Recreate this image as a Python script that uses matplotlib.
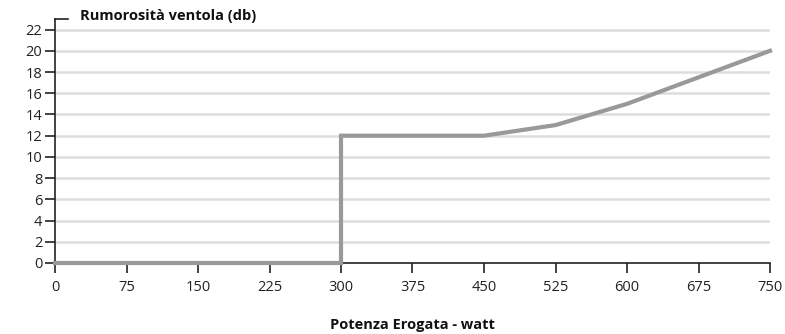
import matplotlib.pyplot as plt
import numpy as np

plt.rcParams['font.family'] = ['Open Sans', 'DejaVu Sans']

potenza = [0, 300, 300, 450, 525, 600, 675, 750]
rumore = [0, 0, 12, 12, 13, 15, 17.5, 20]
x_ticks = np.arange(0, 751, 75)
y_ticks = np.arange(0, 23, 2)


def main():
    fig = plt.figure(figsize=(7.85, 3.34), dpi=100)
    ax = fig.add_axes([55 / 785, 71 / 334, 715 / 785, 244 / 334])

    for y in y_ticks[1:]:
        ax.axhline(y, color='#dddddd', lw=1.8, zorder=1)

    ax.plot(potenza, rumore, color='#999999', lw=3, zorder=3,
            solid_joinstyle='miter', clip_on=False)

    ax.set_xlim(0, 750)
    ax.set_ylim(0, 23)
    ax.set_xticks(x_ticks)
    ax.set_yticks(y_ticks)
    for s in ['top', 'right']:
        ax.spines[s].set_visible(False)
    for s in ['left', 'bottom']:
        ax.spines[s].set_linewidth(1.2)
        ax.spines[s].set_color('#222222')
    ax.tick_params(length=7, width=1.2, color='#222222', labelsize=10.5,
                   labelcolor='#222222', pad=2)
    ax.tick_params(axis='x', pad=5)

    # outer tick at top of y domain
    ax.plot([0, 13 / 715 * 750], [23, 23], color='#222222', lw=1.2,
            clip_on=False, zorder=4)

    fig.text(80 / 785, 1 - 16 / 334, 'Rumorosità ventola (db)', fontsize=10.5,
             fontweight='bold', color='#111111', va='center', ha='left')
    fig.text(412 / 785, 1 - 325 / 334, 'Potenza Erogata - watt', fontsize=10.5,
             fontweight='bold', color='#111111', va='center', ha='center')

    fig.savefig('out.png', dpi=100)


if __name__ == '__main__':
    main()
